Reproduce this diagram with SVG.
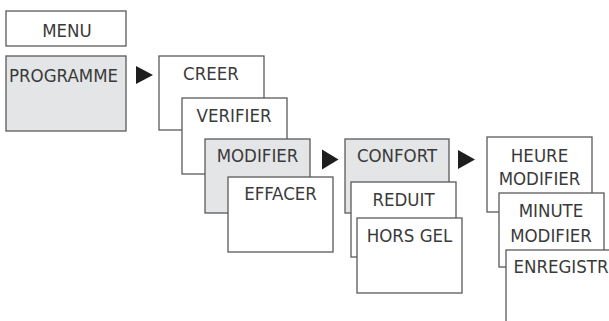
<svg xmlns="http://www.w3.org/2000/svg" width="609" height="321" viewBox="0 0 609 321">
<style>
.b{fill:#ffffff;stroke:#5a5a5a;stroke-width:1.3}
.g{fill:#e4e5e7;stroke:#5a5a5a;stroke-width:1.3}
text{font-family:"DejaVu Sans Condensed","DejaVu Sans",sans-serif;font-stretch:condensed;font-size:18.5px;fill:#3a3a3a;text-anchor:middle}
.arr{fill:#1e1e1e}
</style>
<rect width="609" height="321" fill="#ffffff"/>
<g id="menu"><rect class="b" x="6" y="11" width="120" height="35"/><text x="67" y="36.5">MENU</text></g>
<g id="programme"><rect class="g" x="6" y="56" width="120" height="75"/><text x="9" y="81.5" style="text-anchor:start">PROGRAMME</text></g>
<g id="creer"><rect class="b" x="159" y="56" width="105" height="74"/><text x="211" y="79.5">CREER</text></g>
<g id="verifier"><rect class="b" x="182" y="98" width="105" height="76"/><text x="234" y="122">VERIFIER</text></g>
<g id="modifier"><rect class="g" x="205" y="139" width="105" height="74"/><text x="257.5" y="162">MODIFIER</text></g>
<g id="effacer"><rect class="b" x="228" y="177" width="105" height="75"/><text x="280.5" y="200">EFFACER</text></g>
<g id="confort"><rect class="g" x="345" y="139" width="104" height="74"/><text x="397" y="162">CONFORT</text></g>
<g id="reduit"><rect class="b" x="351" y="182" width="105" height="75"/><text x="403.5" y="206">REDUIT</text></g>
<g id="horsgel"><rect class="b" x="357" y="218" width="105" height="75"/><text x="409.5" y="242">HORS GEL</text></g>
<g id="heure"><rect class="b" x="487" y="137" width="105" height="75"/><text x="539.5" y="161.5">HEURE</text><text x="539.5" y="185">MODIFIER</text></g>
<g id="minute"><rect class="b" x="499" y="193" width="105" height="74"/><text x="551" y="217">MINUTE</text><text x="551" y="241.5">MODIFIER</text></g>
<g id="enregistr"><rect class="b" x="506" y="250" width="106" height="76"/><text x="561" y="273">ENREGISTR</text></g>
<g id="connectors">
<polygon class="arr" points="136,66 153,75 136,84"/>
<polygon class="arr" points="322,149.5 338.5,159.5 322,169.5"/>
<polygon class="arr" points="458,150 475,159.5 458,169"/>
</g>
</svg>
